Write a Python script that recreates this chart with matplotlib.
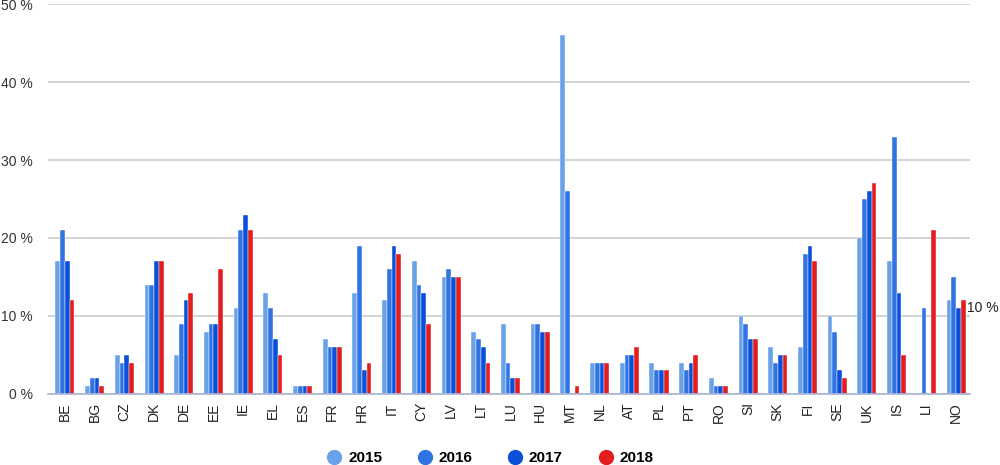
import matplotlib.pyplot as plt
import numpy as np
from matplotlib.lines import Line2D

plt.rcParams['font.family'] = ['Liberation Sans', 'DejaVu Sans']

countries = ['BE', 'BG', 'CZ', 'DK', 'DE', 'EE', 'IE', 'EL', 'ES', 'FR', 'HR', 'IT', 'CY', 'LV', 'LT', 'LU',
             'HU', 'MT', 'NL', 'AT', 'PL', 'PT', 'RO', 'SI', 'SK', 'FI', 'SE', 'UK', 'IS', 'LI', 'NO']
years = ['2015', '2016', '2017', '2018']

v2015 = [17, 1, 5, 14, 5, 8, 11, 13, 1, 7, 13, 12, 17, 15, 8, 9, 9, 46, 4, 4, 4, 4, 2, 10, 6, 6, 10, 20, 17, 0, 12]
v2016 = [21, 2, 4, 14, 9, 9, 21, 11, 1, 6, 19, 16, 14, 16, 7, 4, 9, 26, 4, 5, 3, 3, 1, 9, 4, 18, 8, 25, 33, 11, 15]
v2017 = [17, 2, 5, 17, 12, 9, 23, 7, 1, 6, 3, 19, 13, 15, 6, 2, 8, 0, 4, 5, 3, 4, 1, 7, 5, 19, 3, 26, 13, 0, 11]
v2018 = [12, 1, 4, 17, 13, 16, 21, 5, 1, 6, 4, 18, 9, 15, 4, 2, 8, 1, 4, 6, 3, 5, 1, 7, 5, 17, 2, 27, 5, 21, 12]

colors = ['#6aa2ea', '#2f74e2', '#0b4fd9', '#e31c1e']
series = [v2015, v2016, v2017, v2018]

fig = plt.figure(figsize=(10, 4.65), dpi=100)
ax = fig.add_axes([0.048, 0.153, 0.922, 0.838])

x = np.arange(len(countries))
width = 0.16
for i, vals in enumerate(series):
    offset = (i - 1.5) * width
    ax.bar(x + offset, vals, width, color=colors[i], edgecolor='white', linewidth=0.3, zorder=3)

ax.set_xlim(-0.57, len(countries) - 0.53)
ax.set_ylim(0, 50)
ax.set_yticks(range(0, 51, 10))
ax.set_yticklabels([f'{t} %' for t in range(0, 51, 10)], fontsize=10, color='#333333')
ax.set_xticks(x)
ax.set_xticklabels(countries, rotation=90, fontsize=10, color='#222222')
ax.tick_params(axis='both', length=0)
ax.tick_params(axis='y', pad=11)
ax.tick_params(axis='x', pad=6)
ax.grid(axis='y', color='#cccccc', linewidth=1.2, zorder=0)
for s in ['top', 'right', 'left']:
    ax.spines[s].set_visible(False)
ax.spines['bottom'].set_color('#a8b4d8')
ax.spines['bottom'].set_linewidth(1.2)
ax.spines['bottom'].set_zorder(4)

# label to the right of NO
ax.text(len(countries) - 0.62, 11, '10 %', fontsize=10, color='#222222', ha='left', va='center')

handles = [Line2D([0], [0], marker='o', linestyle='', markersize=10, markerfacecolor=c, markeredgecolor=c)
           for c in colors]
fig.legend(handles, years, loc='lower center', ncol=4, frameon=False, bbox_to_anchor=(0.49, -0.03),
           prop={'weight': 'bold', 'size': 11}, handlelength=1.0, handletextpad=0.4, columnspacing=2.3)

plt.savefig('out.png', dpi=100)
